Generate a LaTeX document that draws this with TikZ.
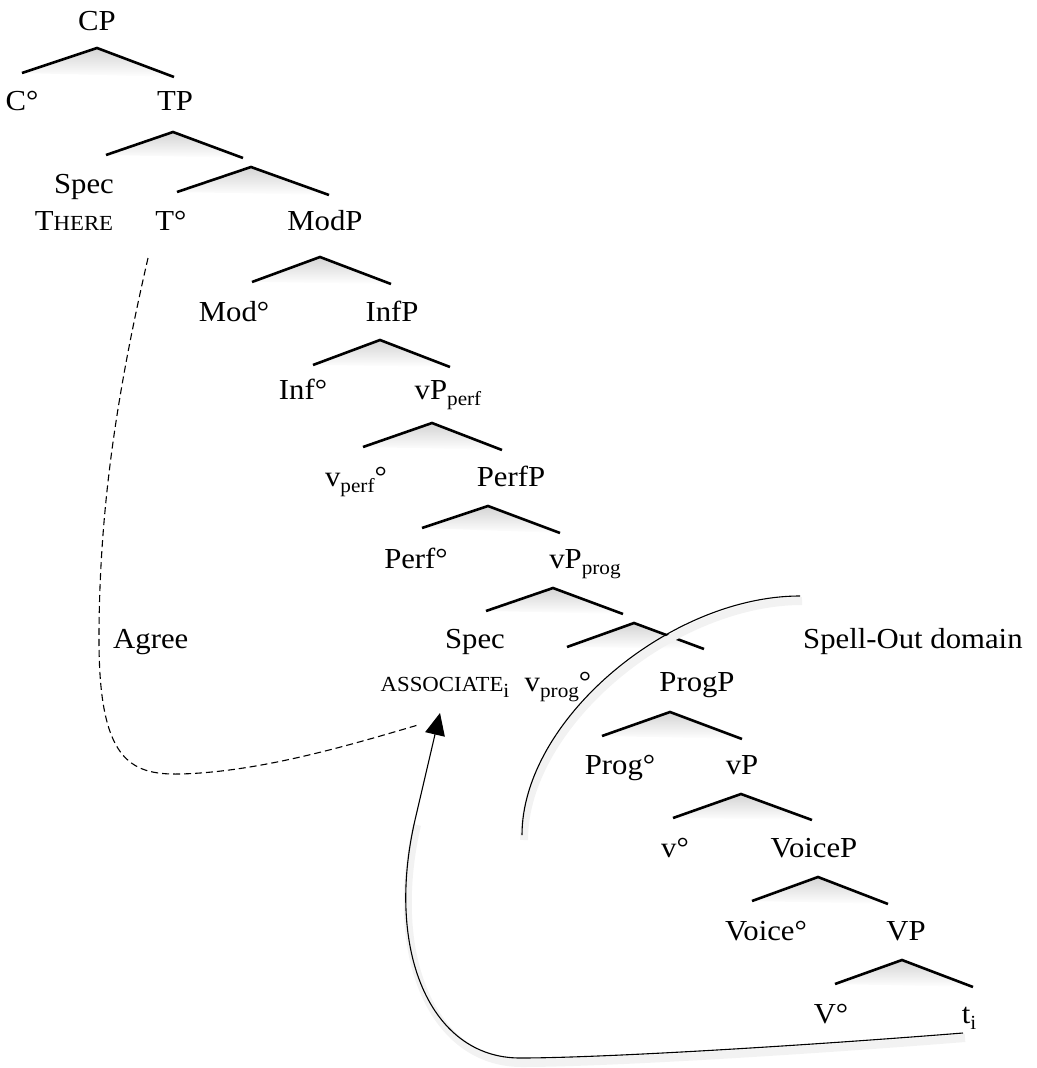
\documentclass[tikz,border=0pt]{standalone}
\usepackage{fontspec}
\setmainfont{Liberation Serif}[FakeStretch=1.06]
\usetikzlibrary{arrows.meta,calc}
\newcommand\fsc[1]{{\fontsize{21.5}{26}\selectfont #1}}
\newcommand\sbs[1]{\raisebox{-6pt}{\fontsize{20}{24}\selectfont #1}}
\newcommand\branch[4]{%
  \coordinate (#1a) at (#2);
  \coordinate (#1l) at (#3);
  \coordinate (#1r) at (#4);
  \shade[top color=black!17,bottom color=white] (#1a) -- (#1l) -- (#1r) -- cycle;
  \draw[brline] (#1l) -- (#1a) -- (#1r);}
\begin{document}
\begin{tikzpicture}[x=1pt,y=-1pt,
  lbl/.style={font=\fontsize{29}{35}\selectfont, inner sep=0pt, anchor=base},
  brline/.style={line width=2.6pt, line join=miter, line cap=butt},
  thinline/.style={line width=1.1pt},
  agreeline/.style={line width=1.1pt, dash pattern=on 7pt off 4pt},
  softsh/.style={line width=8pt, draw=black!5, transform canvas={xshift=2pt,yshift=-5pt}}]
\useasboundingbox (0,0) rectangle (1036,1068);

% branches
\branch{A}{97,48}{22,73}{174,77}
\branch{B}{173,132}{106,155}{243,158}
\branch{C}{251,167}{177,192}{329,195}
\branch{D}{320,257}{252,282}{391,284}
\branch{E}{380,340}{313,365}{450,367}
\branch{F}{432,423}{363,447}{502,450}
\branch{G}{488,506}{422,528}{560,533}
\branch{H}{553,588}{486,611}{623,614}
\branch{I}{634,623}{567,647}{704,649}
\branch{J}{670,712}{602,736}{742,739}
\branch{K}{741,794}{673,818}{812,820}
\branch{L}{818,877}{752,901}{888,904}
\branch{M}{902,960}{835,984}{973,987}

% labels
\node[lbl] (cp) at (97,30) {CP};
\node[lbl] (c0) at (22,110) {C°};
\node[lbl] (tp) at (175,110) {TP};
\node[lbl] (spec1) at (84,193) {Spec};
\node[lbl] (there) at (74,230) {T\fsc{HERE}};
\node[lbl] (t0) at (171,230) {T°};
\node[lbl] (modp) at (325,230) {ModP};
\node[lbl] (mod0) at (234,321) {Mod°};
\node[lbl] (infp) at (392,321) {InfP};
\node[lbl] (inf0) at (303,399) {Inf°};
\node[lbl] (vpperf) at (448,399) {vP\sbs{perf}};
\node[lbl] (vperf0) at (356,486) {v\sbs{perf}°};
\node[lbl] (perfp) at (511,486) {PerfP};
\node[lbl] (perf0) at (416,568) {Perf°};
\node[lbl] (vpprog) at (585,568) {vP\sbs{prog}};
\node[lbl] (spec2) at (475,648) {Spec};
\node[lbl,anchor=base west] (agree) at (113,648) {Agree};
\node[lbl,anchor=base west] (spell) at (803,648) {Spell-Out domain};
\node[lbl] (assoc) at (445,691) {\fsc{ASSOCIATE}\sbs{i}};
\node[lbl] (vprog0) at (558,691) {v\sbs{prog}°};
\node[lbl] (progp) at (697,691) {ProgP};
\node[lbl] (prog0) at (620,774) {Prog°};
\node[lbl] (vp) at (742,774) {vP};
\node[lbl] (v0) at (675,857) {v°};
\node[lbl] (voicep) at (814,857) {VoiceP};
\node[lbl] (voice0) at (766,940) {Voice°};
\node[lbl] (vpbig) at (906,940) {VP};
\node[lbl] (vbig0) at (831,1023) {V°};
\node[lbl] (ti) at (969,1023) {t\sbs{i}};

% connector end points
\coordinate (ag1) at (148,258);
\coordinate (ag2) at (418,725);
\coordinate (so1) at (800,596);
\coordinate (so2) at (522,835);
\coordinate (mvs) at (963,1033);
\coordinate (mve) at (440,713);

% soft shadows
\draw[softsh] (so1) .. controls (670,596) and (522,720) .. (so2);
\draw[softsh] (mvs) .. controls (800,1046) and (600,1058) .. (520,1058)
  .. controls (430,1058) and (385,950) .. (415,820);

% Agree (dashed)
\draw[agreeline] (ag1) .. controls (120,380) and (99,500) .. (99,640)
  .. controls (99,760) and (130,775) .. (180,774)
  .. controls (260,772) and (350,745) .. (ag2);

% Spell-Out domain arc
\draw[thinline] (so1) .. controls (670,596) and (522,720) .. (so2);

% movement arrow
\draw[thinline, -{Triangle[length=22pt,width=20pt]}] (mvs) .. controls (800,1046) and (600,1058) .. (520,1058)
  .. controls (430,1058) and (385,950) .. (415,820) -- (mve);
\end{tikzpicture}
\end{document}
